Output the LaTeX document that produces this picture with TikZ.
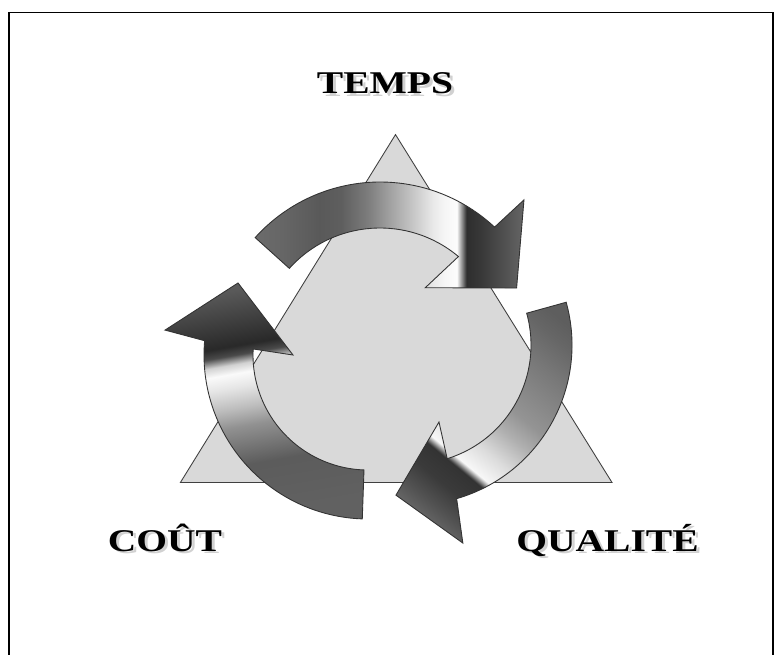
\documentclass[tikz,border=0pt]{standalone}
\usepackage{fontspec}
\setmainfont{Liberation Serif}
\usetikzlibrary{calc}

% metal look of the three arrows
\pgfdeclarehorizontalshading{metaltop}{100bp}{color(0bp)=(black!58); color(25bp)=(black!58); color(30bp)=(black!60); color(37bp)=(black!65); color(41bp)=(black!63); color(46bp)=(black!51); color(50bp)=(black!37); color(54.4bp)=(black!22); color(58bp)=(black!9); color(60bp)=(black!4); color(62.5bp)=(black!1); color(64.3bp)=(black!82); color(67bp)=(black!78); color(72bp)=(black!67); color(75bp)=(black!60); color(100bp)=(black!60)}
\pgfdeclarehorizontalshading{metalleft}{100bp}{color(0bp)=(black!62); color(26bp)=(black!62); color(37bp)=(black!64); color(41.5bp)=(black!53); color(45.5bp)=(black!43); color(49.5bp)=(black!26); color(54bp)=(black!10); color(57bp)=(black!2); color(59bp)=(black!18); color(61bp)=(black!71); color(63bp)=(black!84); color(68bp)=(black!76); color(75bp)=(black!65); color(100bp)=(black!60)}
\pgfdeclarehorizontalshading{metalright}{100bp}{color(0bp)=(black!63); color(22bp)=(black!63); color(26bp)=(black!60); color(33bp)=(black!53); color(45bp)=(black!42); color(50bp)=(black!31); color(56bp)=(black!14); color(61.3bp)=(black!3); color(63bp)=(black!80); color(68bp)=(black!77); color(73bp)=(black!68); color(78bp)=(black!58); color(100bp)=(black!55)}

\begin{document}
\begin{tikzpicture}[
    x=0.2mm, y=0.2mm,
    lbl/.style={font=\fontsize{18}{20}\selectfont\bfseries, xscale=1.25, anchor=base, inner sep=0pt},
    lblshadow/.style={lbl, text=black!18},
    arrowbody/.style={draw=black!80, line width=0.5pt}
]
  \useasboundingbox (0,0) rectangle (775,654);
  % frame
  \draw[line width=0.35mm] (9,641.5) rectangle (773,-20);

  % triangle
  \coordinate (apex) at (395.5,519.4);
  \coordinate (bl) at (180.4,171.5);
  \coordinate (br) at (612,171.5);
  \draw[fill=black!15, draw=black!75, line width=0.5pt] (apex) -- (bl) -- (br) -- cycle;

  % centres of the arrows
  \coordinate (ctop) at (380,304);
  \coordinate (cleft) at (368,299);
  \coordinate (cright) at (412,309);

  % arrows
  \shadedraw[arrowbody, shading=metaltop, shading angle=0]
    ($(ctop)+(138:168)$) arc[start angle=138, end angle=47, radius=168]
    -- ($(ctop)+(46.2:208)$) -- ($(ctop)+(24.4:150)$) -- ($(ctop)+(54:77)$)
    -- ($(ctop)+(50:122)$) arc[start angle=50, end angle=138, radius=122] -- cycle;
  \shadedraw[arrowbody, shading=metalleft, shading angle=100]
    ($(cleft)+(268:164)$) arc[start angle=268, end angle=175, radius=164]
    -- ($(cleft)+(173:204.5)$) -- ($(cleft)+(151:148.6)$) -- ($(cleft)+(180:75)$)
    -- ($(cleft)+(177:115)$) arc[start angle=177, end angle=268, radius=115] -- cycle;
  \shadedraw[arrowbody, shading=metalright, shading angle=230.5]
    ($(cright)+(15.5:160)$) arc[start angle=15.5, end angle=-73.8, radius=160]
    -- ($(cright)+(-75.6:204.5)$) -- ($(cright)+(-96.1:151)$) -- ($(cright)+(-70.7:81.6)$)
    -- ($(cright)+(-72.8:119)$) arc[start angle=-72.8, end angle=15.5, radius=119] -- cycle;

  % labels
  \node[lblshadow] (tempsS) at (388,558) {TEMPS};
  \node[lbl] (temps) at (385,560.7) {TEMPS};
  \node[lblshadow] (coutS) at (168,100.3) {COÛT};
  \node[lbl] (cout) at (165,103) {COÛT};
  \node[lblshadow] (qualiteS) at (610.5,100.3) {QUALITÉ};
  \node[lbl] (qualite) at (607.5,103) {QUALITÉ};
\end{tikzpicture}
\end{document}
